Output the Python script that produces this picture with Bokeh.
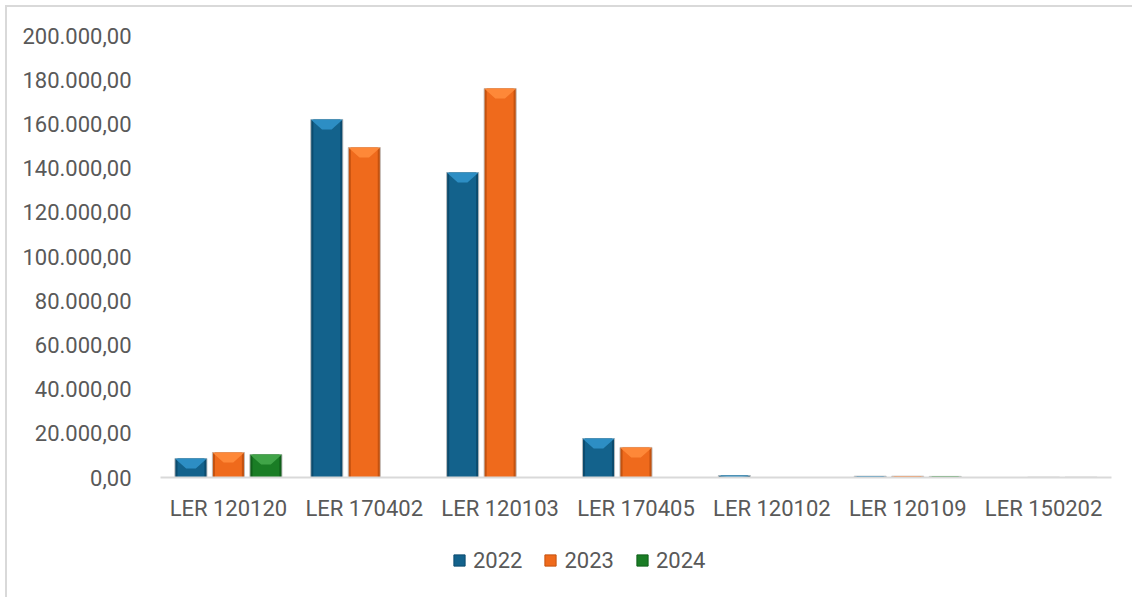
from bokeh.plotting import figure
from bokeh.layouts import column
from bokeh.models import ColumnDataSource, FactorRange, Range1d, FixedTicker, Legend, LegendItem
from bokeh.transform import dodge
from bokeh.embed import file_html
from bokeh.resources import INLINE

categories = ["LER 120120", "LER 170402", "LER 120103", "LER 170405",
              "LER 120102", "LER 120109", "LER 150202"]
years = ["2022", "2023", "2024"]
v2022 = [8600, 162000, 138000, 17600, 900, 600, 0]
v2023 = [11300, 149300, 176000, 13600, 0, 600, 150]
v2024 = [10400, 0, 0, 0, 0, 500, 150]
y_ticks = [0, 20000, 40000, 60000, 80000, 100000, 120000, 140000, 160000, 180000, 200000]
y_tick_labels = ["0,00", "20.000,00", "40.000,00", "60.000,00", "80.000,00", "100.000,00",
                 "120.000,00", "140.000,00", "160.000,00", "180.000,00", "200.000,00"]

edge_colors = ["#0B4B6E", "#C4520F", "#10601A"]
body_colors = ["#13628C", "#EF6A1C", "#1A7D25"]
light_colors = ["#3193CA", "#FF8C3C", "#45A84D"]
offsets = [-0.276, 0.0, 0.276]
bar_w = 0.236
FONT = "Roboto"
FS = "22px"
TXT = "#595959"

series = [v2022, v2023, v2024]
src = ColumnDataSource(dict(cat=categories, v2022=v2022, v2023=v2023, v2024=v2024))

p = figure(x_range=FactorRange(*categories), y_range=Range1d(0, 200000),
           width=1125, height=523, output_backend="svg", toolbar_location=None,
           min_border_left=153, min_border_right=21, min_border_top=28, min_border_bottom=53)
p.outline_line_color = None
p.xgrid.visible = False
p.ygrid.visible = False
p.background_fill_color = "white"
p.border_fill_color = "white"

ppu = 442 / 200000.0  # px per data unit (approx.) for bevel depth
half = bar_w / 2
for j, y in enumerate(years):
    col = "v" + y
    p.vbar(x=dodge("cat", offsets[j], range=p.x_range), top=col, width=bar_w, source=src,
           fill_color=edge_colors[j], line_color="#bdbdbd", line_width=1, line_alpha=0.9)
    p.vbar(x=dodge("cat", offsets[j], range=p.x_range), top=col, width=bar_w * 0.84, source=src,
           fill_color=body_colors[j], line_color=None)
    xs, ys = [], []
    for i, v in enumerate(series[j]):
        if v <= 0:
            continue
        d = min(v, 10 / ppu)
        cx = i + 0.5 + offsets[j]
        xs.append([cx - half, cx + half, cx + half * 0.3, cx - half * 0.3])
        ys.append([v, v, v - d, v - d])
    p.patches(xs, ys, fill_color=light_colors[j], line_color=None, fill_alpha=0.9)

p.xaxis.axis_line_color = "#d9d9d9"
p.xaxis.axis_line_width = 2
p.xaxis.major_tick_line_color = None
p.xaxis.minor_tick_line_color = None
p.xaxis.major_label_text_font = FONT
p.xaxis.major_label_text_font_size = FS
p.xaxis.major_label_text_color = TXT
p.xaxis.major_label_standoff = 12

p.yaxis.ticker = FixedTicker(ticks=y_ticks)
p.yaxis.major_label_overrides = {t: l for t, l in zip(y_ticks, y_tick_labels)}
p.yaxis.axis_line_color = None
p.yaxis.major_tick_line_color = None
p.yaxis.minor_tick_line_color = None
p.yaxis.major_label_text_font = FONT
p.yaxis.major_label_text_font_size = FS
p.yaxis.major_label_text_color = TXT
p.yaxis.major_label_standoff = 23

# legend strip below the chart (frames of the column are aligned)
p2 = figure(width=1125, height=67, x_range=(0, 1), y_range=(0, 1), title=None,
            output_backend="svg", toolbar_location=None, min_border=0,
            x_axis_location=None, y_axis_location=None)
p2.outline_line_color = None
p2.xgrid.visible = False
p2.ygrid.visible = False
key_src = ColumnDataSource(dict(x=[float("nan")], top=[float("nan")]))
key_renderers = [p2.vbar(x="x", top="top", width=0.1, source=key_src,
                         fill_color=body_colors[j], line_color=edge_colors[j], line_width=1)
                 for j in range(len(years))]
legend = Legend(items=[LegendItem(label=y, renderers=[key_renderers[j]]) for j, y in enumerate(years)],
                orientation="horizontal", location=(292, 24),
                glyph_width=14, glyph_height=14, label_standoff=7, spacing=21, label_height=26,
                label_text_font=FONT, label_text_font_size=FS, label_text_color=TXT,
                border_line_color=None, background_fill_alpha=0, padding=0, margin=0)
p2.add_layout(legend)

layout = column(p, p2, spacing=0,
                styles={"margin-left": "5px", "margin-top": "5px",
                        "border-left": "2px solid #d9d9d9", "border-top": "2px solid #d9d9d9"})

open("out.html", "w").write(file_html(layout, INLINE))
